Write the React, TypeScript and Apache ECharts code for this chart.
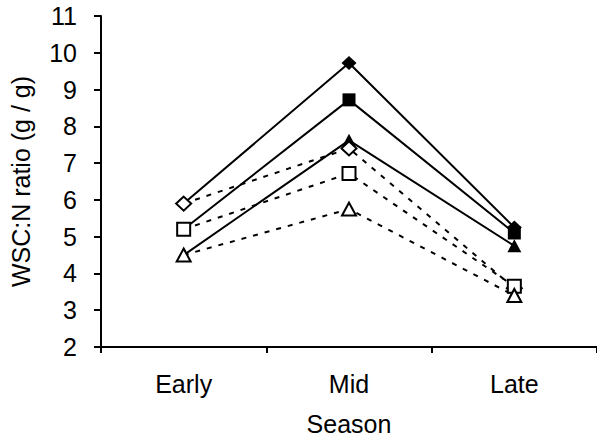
import React, { useEffect, useRef } from "react";
import * as echarts from "echarts";

// Growing season stages on the x axis
const seasons = ["Early", "Mid", "Late"];

// WSC:N ratio (g / g) per treatment; filled markers on solid lines
const filledDiamond = [5.9, 9.72, 5.25];
const filledSquare = [5.2, 8.72, 5.1];
const filledTriangle = [4.5, 7.62, 4.75];

// Open markers on dashed lines
const openDiamond = [5.9, 7.4, 3.6];
const openSquare = [5.2, 6.72, 3.65];
const openTriangle = [4.5, 5.75, 3.4];

const FONT = "'Liberation Sans', Arial, sans-serif";
const FS = 25;

type SeriesDef = {
  name: string;
  data: number[];
  symbol: string;
  size: number | number[];
  filled: boolean;
};

const defs: SeriesDef[] = [
  { name: "A", data: filledDiamond, symbol: "diamond", size: [15, 14], filled: true },
  { name: "B", data: filledSquare, symbol: "rect", size: 13, filled: true },
  { name: "C", data: filledTriangle, symbol: "triangle", size: [14, 13], filled: true },
  { name: "D", data: openDiamond, symbol: "diamond", size: [15, 14], filled: false },
  { name: "E", data: openSquare, symbol: "rect", size: 13, filled: false },
  { name: "F", data: openTriangle, symbol: "triangle", size: [14, 13], filled: false },
];

export default function App() {
  const ref = useRef<HTMLDivElement>(null);

  useEffect(() => {
    if (!ref.current) return;
    const chart = echarts.init(ref.current, null, { renderer: "svg" });

    const series = defs.map((d) => ({
      name: d.name,
      type: "line",
      data: d.data,
      symbol: d.symbol,
      symbolSize: d.size,
      showAllSymbol: true,
      lineStyle: {
        color: "#000",
        width: 2,
        type: d.filled ? "solid" : [5, 7],
      },
      itemStyle: {
        color: d.filled ? "#000" : "#fff",
        borderColor: "#000",
        borderWidth: d.filled ? 0 : 2,
        opacity: 1,
      },
      emphasis: { disabled: true },
    }));

    chart.setOption({
      animation: false,
      backgroundColor: "#fff",
      grid: { left: 101, top: 16, width: 504, height: 331, containLabel: false },
      xAxis: {
        type: "category",
        data: seasons,
        boundaryGap: true,
        name: "Season",
        nameLocation: "middle",
        nameGap: 64,
        nameTextStyle: { color: "#000", fontSize: FS, fontFamily: FONT },
        axisLine: { lineStyle: { color: "#000", width: 2 } },
        axisTick: { show: true, inside: false, length: 6, lineStyle: { color: "#000", width: 2 } },
        axisLabel: { color: "#000", fontSize: FS, fontFamily: FONT, margin: 24 },
        splitLine: { show: false },
      },
      yAxis: {
        type: "value",
        min: 2,
        max: 11,
        interval: 1,
        name: "WSC:N ratio (g / g)",
        nameLocation: "middle",
        nameGap: 68,
        nameRotate: 90,
        nameTextStyle: { color: "#000", fontSize: FS, fontFamily: FONT },
        axisLine: { show: true, lineStyle: { color: "#000", width: 2 } },
        axisTick: { show: true, inside: false, length: 7, lineStyle: { color: "#000", width: 2 } },
        axisLabel: { color: "#000", fontSize: FS, fontFamily: FONT, margin: 24 },
        splitLine: { show: false },
      },
      series,
    });

    return () => chart.dispose();
  }, []);

  return (
    <div
      ref={ref}
      style={{ position: "fixed", left: 0, top: 0, width: 597, height: 441, background: "#fff" }}
    />
  );
}
